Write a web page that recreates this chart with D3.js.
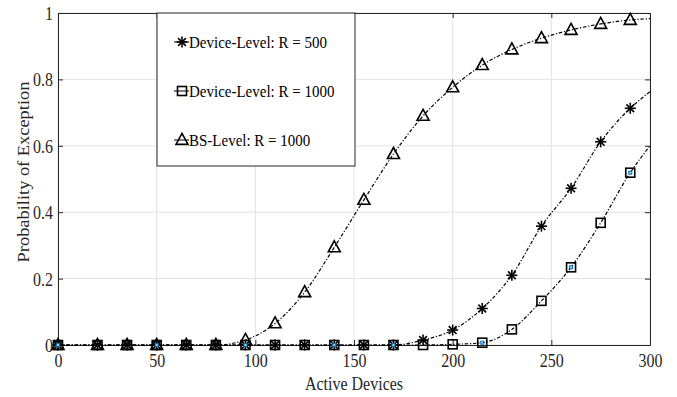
<!DOCTYPE html>
<html>
<head>
<meta charset="utf-8">
<script src="https://cdn.jsdelivr.net/npm/d3@7"></script>
<style>
  body { margin: 0; background: #fff; }
  svg text { font-family: "Times New Roman", "Liberation Serif", Times, serif !important; }
</style>
</head>
<body>
<svg id="chart" width="677" height="397"></svg>
<script>
// marker positions (active devices)
const devices = [0, 20, 35, 50, 65, 80, 95, 110, 125, 140, 155, 170, 185, 200, 215, 230, 245, 260, 275, 290]
// probability of exception per series
const devR500 =  [0, 0, 0, 0, 0, 0, 0, 0, 0, 0, 0, 0, 0.015, 0.045, 0.11, 0.21, 0.358, 0.472, 0.612, 0.713]
const devR1000 = [0, 0, 0, 0, 0, 0, 0, 0, 0, 0, 0, 0, 0, 0.002, 0.007, 0.047, 0.133, 0.234, 0.368, 0.519]
const bsR1000 =  [0, 0, 0, 0, 0, 0, 0.015, 0.065, 0.159, 0.294, 0.437, 0.575, 0.69, 0.776, 0.843, 0.89, 0.924, 0.949, 0.967, 0.979]
// where the curves leave the plot at 300 devices
const endX = 300
const endR500 = 0.763
const endR1000 = 0.6
const endBs = 0.983
// small blue marks drawn inside some of the R = 1000 squares
const blueX = [0, 50, 95, 140, 170, 215, 260, 290]

const xTicks = [0, 50, 100, 150, 200, 250, 300]
const yTicks = [0, 0.2, 0.4, 0.6, 0.8, 1]
const yTickLabels = ['0', '0.2', '0.4', '0.6', '0.8', '1']

const legendLabels = ['Device-Level: R = 500', 'Device-Level: R = 1000', 'BS-Level: R = 1000']

const margin = { left: 58, right: 27, top: 13, bottom: 52 }
const width = 677, height = 397
const serif = '"Times New Roman", "Liberation Serif", Times, serif'
const stretch = 1.15 // the source figure is a bit taller than wide, text included

let svg = d3.select('#chart').attr('font-family', serif)

let x = d3.scaleLinear().domain([0, 300]).range([margin.left, width - margin.right])
let y = d3.scaleLinear().domain([0, 1]).range([height - margin.bottom, margin.top])

// grid
let grid = svg.append('g').attr('stroke', '#e3e3e3').attr('stroke-width', 1)
xTicks.forEach(t => {
  grid.append('line').attr('x1', x(t)).attr('x2', x(t)).attr('y1', y(0)).attr('y2', y(1))
})
yTicks.forEach(t => {
  grid.append('line').attr('x1', x(0)).attr('x2', x(300)).attr('y1', y(t)).attr('y2', y(t))
})

// axes (ticks point inward, box on all sides)
const tickLen = 5
let axColor = '#262626'
let axBottom = svg.append('g').attr('transform', `translate(0,${y(0)})`)
  .call(d3.axisBottom(x).tickValues(xTicks).tickSizeInner(-tickLen).tickSizeOuter(0))
let axTop = svg.append('g').attr('transform', `translate(0,${y(1)})`)
  .call(d3.axisTop(x).tickValues(xTicks).tickSizeInner(-tickLen).tickSizeOuter(0).tickFormat(''))
let axLeft = svg.append('g').attr('transform', `translate(${x(0)},0)`)
  .call(d3.axisLeft(y).tickValues(yTicks).tickSizeInner(-tickLen).tickSizeOuter(0)
    .tickFormat((d, i) => yTickLabels[i]))
let axRight = svg.append('g').attr('transform', `translate(${x(300)},0)`)
  .call(d3.axisRight(y).tickValues(yTicks).tickSizeInner(-tickLen).tickSizeOuter(0).tickFormat(''))

;[axBottom, axTop, axLeft, axRight].forEach(g => {
  g.attr('font-family', serif).attr('font-size', 16)
  g.selectAll('path').attr('stroke', axColor).attr('stroke-width', 1)
  g.selectAll('line').attr('stroke', axColor)
  g.selectAll('text').attr('fill', axColor)
})
// place tick labels by baseline and stretch them vertically
axBottom.selectAll('.tick text').attr('y', null).attr('dy', null)
  .attr('transform', `translate(0,22) scale(1,${stretch})`)
axLeft.selectAll('.tick text').attr('x', null).attr('dy', null)
  .attr('transform', `translate(-5,6.5) scale(1,${stretch})`)

svg.append('text').attr('transform', `translate(${(x(0) + x(300)) / 2},390) scale(1,${stretch})`)
  .attr('text-anchor', 'middle').attr('font-size', 16).attr('fill', axColor).text('Active Devices')
svg.append('text').attr('transform', `translate(29,172) rotate(-90) scale(${stretch},1)`)
  .attr('text-anchor', 'middle').attr('font-size', 16).attr('fill', axColor).text('Probability of Exception')

// series
let line = d3.line().x(d => x(d[0])).y(d => y(d[1])).curve(d3.curveMonotoneX)
const series = [
  { vals: devR500, end: endR500, marker: 'star' },
  { vals: devR1000, end: endR1000, marker: 'square' },
  { vals: bsR1000, end: endBs, marker: 'triangle' }
]

function drawMarker(g, kind, cx, cy) {
  if (kind === 'star') {
    const r = 5.5
    ;[0, 45, 90, 135].forEach(a => {
      const rad = a * Math.PI / 180
      g.append('line')
        .attr('x1', cx - r * Math.cos(rad)).attr('y1', cy - r * Math.sin(rad))
        .attr('x2', cx + r * Math.cos(rad)).attr('y2', cy + r * Math.sin(rad))
        .attr('stroke', '#000').attr('stroke-width', 1.6)
    })
  } else if (kind === 'square') {
    const s = 9
    g.append('rect').attr('x', cx - s / 2).attr('y', cy - s / 2).attr('width', s).attr('height', s)
      .attr('fill', 'none').attr('stroke', '#000').attr('stroke-width', 1.6)
  } else {
    const h = 11, w = 12
    g.append('path')
      .attr('d', `M${cx},${cy - h * 0.6}L${cx + w / 2},${cy + h * 0.4}L${cx - w / 2},${cy + h * 0.4}Z`)
      .attr('fill', 'none').attr('stroke', '#000').attr('stroke-width', 1.6)
  }
}

let plot = svg.append('g')
series.forEach(s => {
  let pts = devices.map((d, i) => [d, s.vals[i]])
  pts.push([endX, s.end])
  plot.append('path').datum(pts).attr('d', line)
    .attr('fill', 'none').attr('stroke', '#000').attr('stroke-width', 1.2)
    .attr('stroke-dasharray', '3.5,1.8,1.2,1.8')
})
series.forEach(s => {
  let g = plot.append('g')
  devices.forEach((d, i) => drawMarker(g, s.marker, x(d), y(s.vals[i])))
})
blueX.forEach(bx => {
  let v = devR1000[devices.indexOf(bx)]
  plot.append('rect').attr('x', x(bx) - 1.5).attr('y', y(v) - 1.5).attr('width', 3).attr('height', 3)
    .attr('fill', '#9fd0f0').attr('stroke', '#0072BD').attr('stroke-width', 1)
})

// legend
let lg = svg.append('g')
lg.append('rect').attr('x', 157).attr('y', 13).attr('width', 198).attr('height', 153)
  .attr('fill', '#fff').attr('stroke', '#262626').attr('stroke-width', 1)
const rowY = [42, 91, 140]
series.forEach((s, i) => {
  lg.append('line').attr('x1', 174).attr('x2', 189).attr('y1', rowY[i]).attr('y2', rowY[i])
    .attr('stroke', '#000').attr('stroke-width', 1)
  drawMarker(lg, s.marker, 182, rowY[i])
  lg.append('text').attr('transform', `translate(189,${rowY[i] + 6}) scale(1,${stretch})`)
    .attr('font-size', 15).attr('fill', '#000').text(legendLabels[i])
})
</script>
</body>
</html>
